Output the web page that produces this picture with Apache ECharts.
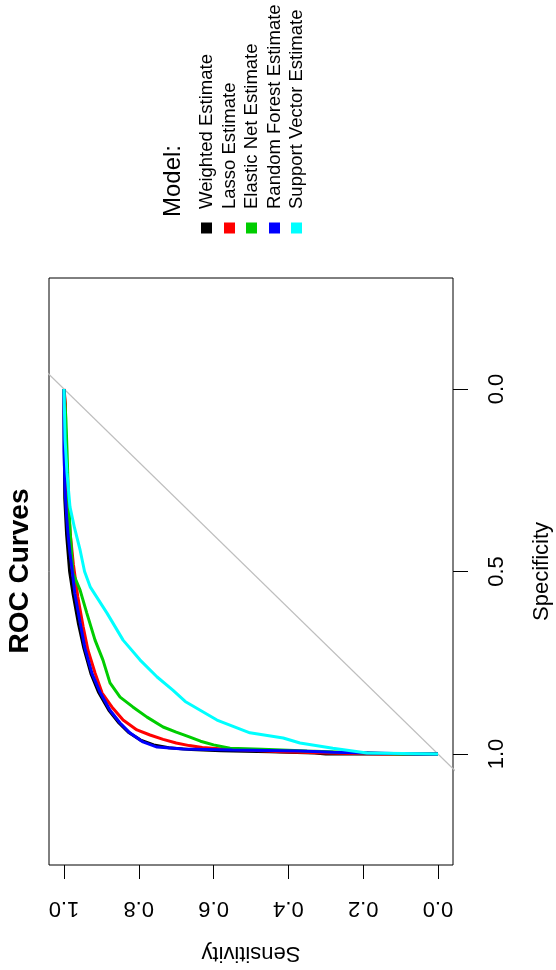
<!DOCTYPE html>
<html><head><meta charset="utf-8">
<script src="https://cdn.jsdelivr.net/npm/echarts@6/dist/echarts.min.js"></script>
<style>html,body{margin:0;padding:0;background:#fff}#c{width:556px;height:970px}</style>
</head><body><div id="c"></div>
<script>
// ---- data ----
const sensTicks = [0, 0.2, 0.4, 0.6, 0.8, 1.0];
const specTicks = [0, 0.5, 1.0];
const modelNames = ['Weighted Estimate', 'Lasso Estimate', 'Elastic Net Estimate', 'Random Forest Estimate', 'Support Vector Estimate'];
const modelColors = ['#000000', '#FF0000', '#00CD00', '#0000FF', '#00FFFF'];
const legendTitle = 'Model:';
const chartTitle = 'ROC Curves';

// reference line: sensitivity + specificity = 1
const diagSpec = [-0.05, 1.05];
const diagSens = [1.05, -0.05];

const weightedSpec = [0, 0.08, 0.18, 0.30, 0.40, 0.50, 0.56, 0.64, 0.71, 0.78, 0.83, 0.88, 0.915, 0.942, 0.962, 0.975, 0.983, 0.988, 0.991, 0.994, 0.997, 1.0, 1.0];
const weightedSens = [1, 1, 0.999, 0.998, 0.993, 0.985, 0.976, 0.962, 0.947, 0.928, 0.908, 0.880, 0.853, 0.826, 0.795, 0.760, 0.720, 0.660, 0.580, 0.450, 0.330, 0.300, 0];

const lassoSpec = [0, 0.04, 0.10, 0.20, 0.30, 0.40, 0.48, 0.57, 0.65, 0.715, 0.778, 0.833, 0.871, 0.907, 0.934, 0.948, 0.960, 0.970, 0.977, 0.982, 0.986, 0.990, 0.994, 0.997, 1.0, 1.0];
const lassoSens = [1, 0.996, 0.996, 0.994, 0.990, 0.983, 0.975, 0.963, 0.949, 0.936, 0.917, 0.898, 0.872, 0.842, 0.805, 0.770, 0.735, 0.700, 0.665, 0.630, 0.575, 0.500, 0.420, 0.300, 0.150, 0];

const enetSpec = [0, 0.08, 0.167, 0.30, 0.40, 0.504, 0.551, 0.614, 0.688, 0.742, 0.805, 0.844, 0.871, 0.899, 0.926, 0.940, 0.953, 0.965, 0.975, 0.984, 0.987, 0.992, 0.996, 1.0, 1.0];
const enetSens = [1, 0.995, 0.992, 0.988, 0.983, 0.976, 0.957, 0.939, 0.917, 0.896, 0.877, 0.850, 0.816, 0.778, 0.735, 0.700, 0.665, 0.635, 0.600, 0.556, 0.470, 0.350, 0.230, 0.100, 0];

const rfSpec = [0, 0.10, 0.17, 0.28, 0.35, 0.40, 0.45, 0.49, 0.56, 0.64, 0.71, 0.78, 0.83, 0.88, 0.915, 0.942, 0.967, 0.981, 0.986, 0.989, 0.992, 0.995, 1.0, 1.0];
const rfSens = [1, 1, 1.0, 0.997, 0.993, 0.989, 0.984, 0.979, 0.971, 0.957, 0.944, 0.925, 0.904, 0.877, 0.850, 0.824, 0.789, 0.751, 0.682, 0.550, 0.369, 0.280, 0.053, 0];

const svmSpec = [0, 0.05, 0.14, 0.23, 0.323, 0.38, 0.441, 0.50, 0.542, 0.614, 0.688, 0.742, 0.789, 0.825, 0.856, 0.907, 0.942, 0.956, 0.970, 0.984, 0.997, 1.0];
const svmSens = [1, 0.999, 0.997, 0.992, 0.984, 0.972, 0.957, 0.945, 0.930, 0.885, 0.842, 0.797, 0.751, 0.709, 0.676, 0.591, 0.503, 0.414, 0.369, 0.281, 0.190, 0];

const curves = [
  [weightedSens, weightedSpec],
  [lassoSens, lassoSpec],
  [enetSens, enetSpec],
  [rfSens, rfSpec],
  [svmSens, svmSpec]
];

// ---- chart ----
const FONT = '"Liberation Sans", Arial, Helvetica, sans-serif';
const chart = echarts.init(document.getElementById('c'), null, {renderer: 'canvas'});

function pairs(xs, ys) { return xs.map((v, i) => [v, ys[i]]); }

const series = [{
  type: 'line', name: 'ref', data: pairs(diagSens, diagSpec),
  showSymbol: false, symbol: 'none', silent: true, clip: true,
  lineStyle: {color: '#BEBEBE', width: 1.2}
}];
curves.forEach((c, i) => {
  series.push({
    type: 'line', name: modelNames[i], data: pairs(c[0], c[1]),
    showSymbol: false, symbol: 'none', clip: true,
    lineStyle: {color: modelColors[i], width: 3},
    itemStyle: {color: modelColors[i]}
  });
});

const graphic = [{
  type: 'text', x: 20, y: 571, rotation: Math.PI / 2,
  style: {text: chartTitle, font: 'bold 28px ' + FONT, fill: '#000', align: 'center', verticalAlign: 'middle'}
}, {
  type: 'text', x: 173, y: 217, rotation: Math.PI / 2,
  style: {text: legendTitle, font: '24px ' + FONT, fill: '#000', align: 'left', verticalAlign: 'middle'}
}];
const legX = [207, 230, 252, 275, 297];
modelNames.forEach((n, i) => {
  graphic.push({
    type: 'rect', shape: {x: legX[i] - 6, y: 222.5, width: 11, height: 11},
    style: {fill: modelColors[i]}
  });
  graphic.push({
    type: 'text', x: legX[i], y: 209, rotation: Math.PI / 2,
    style: {text: n, font: '18.5px ' + FONT, fill: '#000', align: 'left', verticalAlign: 'middle'}
  });
});

chart.setOption({
  animation: false,
  backgroundColor: '#fff',
  grid: {left: 49, right: 103, top: 278, bottom: 105, show: true, borderColor: '#000', borderWidth: 1, containLabel: false, outerBoundsMode: 'none'},
  xAxis: {
    type: 'value', min: -0.0401, max: 1.0401, inverse: true, position: 'bottom',
    name: 'Sensitivity', nameLocation: 'middle', nameRotate: 180, nameGap: 77,
    nameTextStyle: {fontFamily: FONT, fontSize: 22, color: '#000'},
    axisLine: {show: false, onZero: false},
    axisTick: {show: true, inside: false, length: 14, customValues: sensTicks, lineStyle: {color: '#000', width: 1}},
    axisLabel: {show: true, rotate: 180, margin: 32, customValues: sensTicks, fontFamily: FONT, fontSize: 22, color: '#000',
      formatter: v => v.toFixed(1)},
    splitLine: {show: false}
  },
  yAxis: {
    type: 'value', min: -0.3041, max: 1.3041, inverse: true, position: 'right',
    name: 'Specificity', nameLocation: 'middle', nameRotate: 90, nameGap: 78,
    nameTextStyle: {fontFamily: FONT, fontSize: 22, color: '#000'},
    axisLine: {show: false, onZero: false},
    axisTick: {show: true, inside: false, length: 15, customValues: specTicks, lineStyle: {color: '#000', width: 1}},
    axisLabel: {show: true, rotate: 90, margin: 33, customValues: specTicks, fontFamily: FONT, fontSize: 22, color: '#000',
      formatter: v => v.toFixed(1)},
    splitLine: {show: false}
  },
  graphic: graphic,
  series: series
});
</script>
</body></html>
